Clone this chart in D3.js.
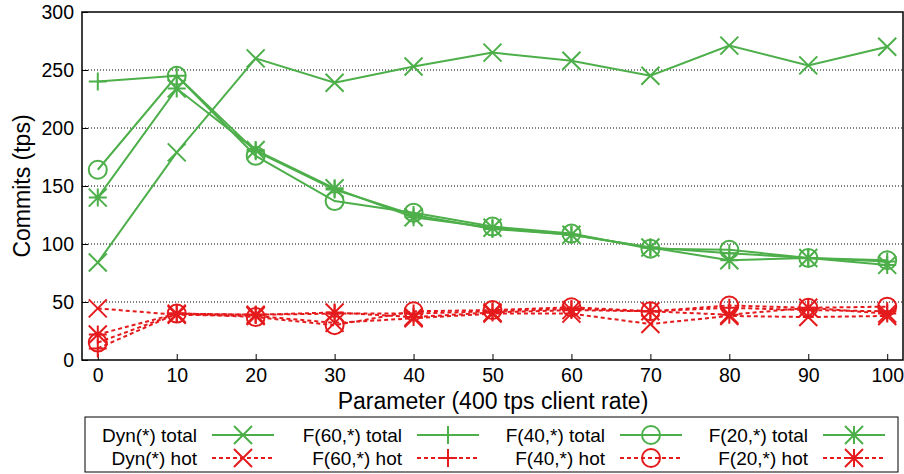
<!DOCTYPE html>
<html>
<head>
<meta charset="utf-8">
<script src="https://cdn.jsdelivr.net/npm/d3@7"></script>
<style>
  html, body { margin: 0; padding: 0; background: #fff; }
  svg { display: block; font-family: "Liberation Sans", Arial, sans-serif; }
</style>
</head>
<body>
<svg id="chart" width="904" height="474"></svg>
<script>
// Parameter values along the x axis
const params = [0, 10, 20, 30, 40, 50, 60, 70, 80, 90, 100];

// Committed transactions per second, total and hot
const dynTotal = [84, 179, 260, 239, 253, 265, 258, 245, 271, 254, 270];
const f60Total = [240, 245, 180, 147, 125, 113, 108, 97, 92, 88, 85];
const f40Total = [164, 245, 176, 137, 127, 115, 109, 96, 95, 88, 86];
const f20Total = [140, 234, 181, 148, 123, 114, 108, 97, 86, 88, 82];

const dynHot = [44.5, 39, 38, 32, 36, 40, 40, 31, 38, 37, 38];
const f60Hot = [10, 40, 39, 40, 40, 42, 44, 42, 45, 43, 42];
const f40Hot = [15, 40, 37, 30, 42, 43, 45.5, 42, 47, 45, 46];
const f20Hot = [22, 40, 39, 41, 37, 41, 43, 42, 39, 45, 40];

const xTicks = [0, 10, 20, 30, 40, 50, 60, 70, 80, 90, 100];
const yTicks = [0, 50, 100, 150, 200, 250, 300];

const GREEN = "#4daf4a";
const RED = "#e41a1c";

const series = [
  { name: "Dyn(*) total", values: dynTotal, color: GREEN, dashed: false, marker: "x" },
  { name: "F(60,*) total", values: f60Total, color: GREEN, dashed: false, marker: "plus" },
  { name: "F(40,*) total", values: f40Total, color: GREEN, dashed: false, marker: "circle" },
  { name: "F(20,*) total", values: f20Total, color: GREEN, dashed: false, marker: "star" },
  { name: "Dyn(*) hot", values: dynHot, color: RED, dashed: true, marker: "x" },
  { name: "F(60,*) hot", values: f60Hot, color: RED, dashed: true, marker: "plus" },
  { name: "F(40,*) hot", values: f40Hot, color: RED, dashed: true, marker: "circle" },
  { name: "F(20,*) hot", values: f20Hot, color: RED, dashed: true, marker: "star" }
];

const svg = d3.select("#chart");
const plotLeft = 82, plotRight = 903, plotTop = 12, plotBottom = 360;

const x = d3.scaleLinear().domain([-2, 102]).range([plotLeft, plotRight]);
const y = d3.scaleLinear().domain([0, 300]).range([plotBottom, plotTop]);

// Dotted horizontal grid
svg.append("g")
  .selectAll("line")
  .data(yTicks.filter(t => t > 0 && t < 300))
  .join("line")
  .attr("x1", plotLeft).attr("x2", plotRight)
  .attr("y1", d => y(d)).attr("y2", d => y(d))
  .attr("stroke", "#000").attr("stroke-width", 1)
  .attr("stroke-dasharray", "1,2");

// Axes with inward ticks
const yAxis = d3.axisLeft(y).tickValues(yTicks).tickSize(-6).tickPadding(10).tickFormat(d3.format("d"));
const xAxis = d3.axisBottom(x).tickValues(xTicks).tickSize(-6).tickPadding(8).tickFormat(d3.format("d"));

const gy = svg.append("g").attr("transform", `translate(${plotLeft},0)`).call(yAxis);
const gx = svg.append("g").attr("transform", `translate(0,${plotBottom})`).call(xAxis);
[gx, gy].forEach(g => {
  g.select(".domain").remove();
  g.selectAll(".tick line").attr("stroke", "#000").attr("stroke-width", 1);
  g.selectAll(".tick text").attr("font-size", 19.5).attr("fill", "#000")
    .attr("font-family", "Liberation Sans, Arial, sans-serif");
});
gy.selectAll(".tick text").attr("dx", "2");

// Frame
svg.append("rect")
  .attr("x", plotLeft).attr("y", plotTop)
  .attr("width", plotRight - plotLeft).attr("height", plotBottom - plotTop)
  .attr("fill", "none").attr("stroke", "#000").attr("stroke-width", 1.5);

// Axis titles
svg.append("text")
  .attr("x", 493).attr("y", 409)
  .attr("text-anchor", "middle").attr("font-size", 23)
  .text("Parameter (400 tps client rate)");
svg.append("text")
  .attr("transform", `translate(30,${(plotTop + plotBottom) / 2}) rotate(-90)`)
  .attr("text-anchor", "middle").attr("font-size", 23)
  .text("Commits (tps)");

// Marker shapes centred on (0,0)
function markerPath(type, s) {
  const p = d3.path();
  if (type === "x") {
    p.moveTo(-s, -s); p.lineTo(s, s); p.moveTo(-s, s); p.lineTo(s, -s);
  } else if (type === "plus") {
    p.moveTo(-s, 0); p.lineTo(s, 0); p.moveTo(0, -s); p.lineTo(0, s);
  } else if (type === "circle") {
    p.moveTo(s, 0); p.arc(0, 0, s, 0, 2 * Math.PI);
  } else if (type === "star") {
    p.moveTo(-s, -s); p.lineTo(s, s); p.moveTo(-s, s); p.lineTo(s, -s);
    p.moveTo(-s, 0); p.lineTo(s, 0); p.moveTo(0, -s); p.lineTo(0, s);
  }
  return p.toString();
}
const markerSize = { x: 9, plus: 9, circle: 9, star: 9 };

const line = d3.line().x((d, i) => x(params[i])).y(d => y(d));
const plot = svg.append("g");

// Draw hot series first, totals on top
[...series.slice(4), ...series.slice(0, 4)].forEach(s => {
  plot.append("path")
    .datum(s.values)
    .attr("d", line)
    .attr("fill", "none")
    .attr("stroke", s.color)
    .attr("stroke-width", 2)
    .attr("stroke-dasharray", s.dashed ? "4,3" : null);
  plot.append("g")
    .selectAll("path")
    .data(s.values)
    .join("path")
    .attr("transform", (d, i) => `translate(${x(params[i])},${y(d)})`)
    .attr("d", markerPath(s.marker, markerSize[s.marker]))
    .attr("fill", "none")
    .attr("stroke", s.color)
    .attr("stroke-width", 2);
});

// Legend
const lg = svg.append("g");
lg.append("rect")
  .attr("x", 85).attr("y", 417).attr("width", 813).attr("height", 55)
  .attr("fill", "#fff").attr("stroke", "#000").attr("stroke-width", 1);

const colTextEnd = [197, 402, 605, 808];
const rowY = [435, 458];
series.forEach((s, k) => {
  const col = k % 4, row = Math.floor(k / 4);
  const tx = colTextEnd[col], ty = rowY[row];
  lg.append("text")
    .attr("x", tx).attr("y", ty).attr("dy", "0.35em")
    .attr("text-anchor", "end").attr("font-size", 19)
    .text(s.name);
  const x0 = tx + 15, x1 = tx + 77;
  lg.append("line")
    .attr("x1", x0).attr("x2", x1).attr("y1", ty).attr("y2", ty)
    .attr("stroke", s.color).attr("stroke-width", 2)
    .attr("stroke-dasharray", s.dashed ? "4,3" : null);
  lg.append("path")
    .attr("transform", `translate(${(x0 + x1) / 2},${ty})`)
    .attr("d", markerPath(s.marker, markerSize[s.marker]))
    .attr("fill", "none").attr("stroke", s.color).attr("stroke-width", 2);
});
</script>
</body>
</html>
